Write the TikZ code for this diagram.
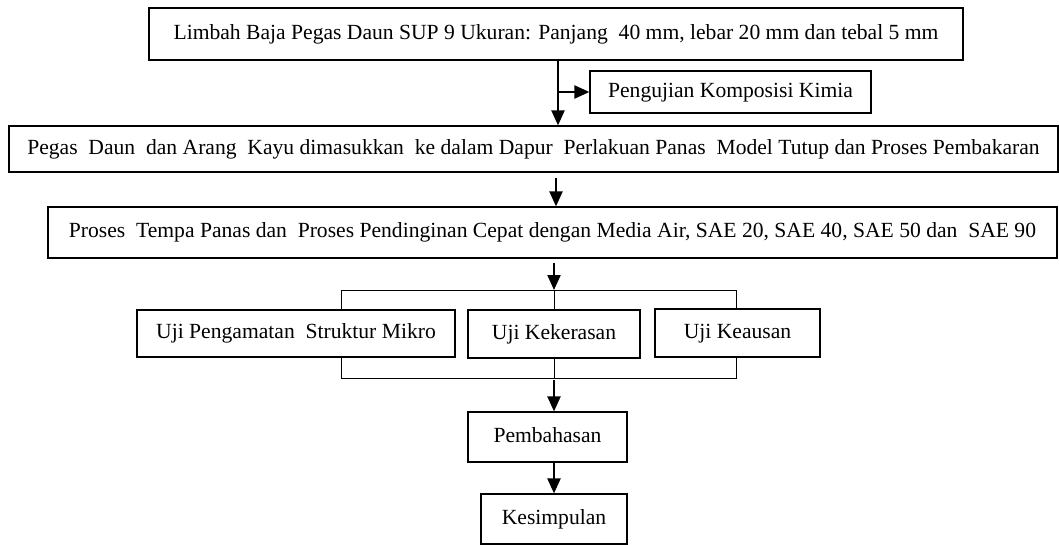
\documentclass[tikz,border=0pt]{standalone}
\usepackage{fontspec}
\setmainfont{Liberation Serif}
\usepackage{tikz}
\usetikzlibrary{arrows.meta,positioning}
\tikzset{
  kotak/.style={rectangle,draw=black,line width=0.6pt,inner sep=2pt,
    text height=1.45ex,text depth=0.35ex,
    font=\fontsize{10.8}{12}\selectfont,anchor=center},
  panah/.style={-{Triangle[length=7.5pt,width=6.5pt]},line width=1.1pt,black},
  garis/.style={line width=0.5pt,black}
}
\begin{document}
\begin{tikzpicture}[x=0.5pt,y=-0.5pt]
\useasboundingbox (0,0) rectangle (1059,545);
% kotak-kotak
\node[kotak,minimum width=407pt,minimum height=26pt] (limbah) at (556,34)
  {Limbah Baja Pegas Daun SUP 9 Ukuran: Panjang\ \ 40 mm, lebar 20 mm dan tebal 5 mm};
\node[kotak,minimum width=140.5pt,minimum height=21pt] (kimia) at (730.5,92)
  {Pengujian Komposisi Kimia};
\node[kotak,minimum width=524.5pt,minimum height=23pt] (dapur) at (533.5,149)
  {Pegas\ \ Daun\ \ dan Arang\ \ Kayu dimasukkan\ \ ke dalam Dapur\ \ Perlakuan Panas\ \ Model Tutup dan Proses Pembakaran};
\node[kotak,minimum width=504.5pt,minimum height=25.5pt] (tempa) at (552.5,232.5)
  {Proses\ \ Tempa Panas dan\ \ Proses Pendinginan Cepat dengan Media Air, SAE 20, SAE 40, SAE 50 dan\ \ SAE 90};
\node[kotak,minimum width=159pt,minimum height=23.5pt] (mikro) at (296,333.5)
  {Uji Pengamatan\ \ Struktur Mikro};
\node[kotak,minimum width=86pt,minimum height=24pt] (keras) at (554,334)
  {Uji Kekerasan};
\node[kotak,minimum width=82.5pt,minimum height=24pt] (aus) at (737.5,333)
  {Uji Keausan};
\node[kotak,minimum width=79.5pt,minimum height=25pt] (bahas) at (547.5,437)
  {Pembahasan};
\node[kotak,minimum width=73pt,minimum height=25pt] (simpul) at (554,519)
  {Kesimpulan};
% titik sudut kurung
\coordinate (kiriatas) at (341,290);
\coordinate (kananatas) at (736,290);
\coordinate (kiribawah) at (341,378);
\coordinate (kananbawah) at (736,378);
% panah
\draw[panah] (limbah.south -| 558,0) -- (dapur.north -| 558,0);
\draw[panah] (kimia.west -| 558,0) -- (kimia.west);
\draw[panah,shorten <=2.5pt] (dapur.south -| 556,0) -- (tempa.north -| 556,0);
\draw[panah,shorten <=2pt] (tempa.south -| keras.north) -- (keras.north |- kiriatas);
\draw[garis] (mikro.north -| kiriatas) |- (kananatas) -- (aus.north -| kananatas);
\draw[garis] (keras.north |- kiriatas) -- (keras.north);
\draw[garis] (mikro.south -| kiribawah) |- (kananbawah) -- (aus.south -| kananbawah);
\draw[garis] (keras.south) -- (keras.south |- kiribawah);
\draw[panah,shorten <=1pt] (keras.south |- kiribawah) -- (bahas.north -| keras.south);
\draw[panah] (bahas.south -| keras.south) -- (simpul.north -| keras.south);
\end{tikzpicture}
\end{document}
